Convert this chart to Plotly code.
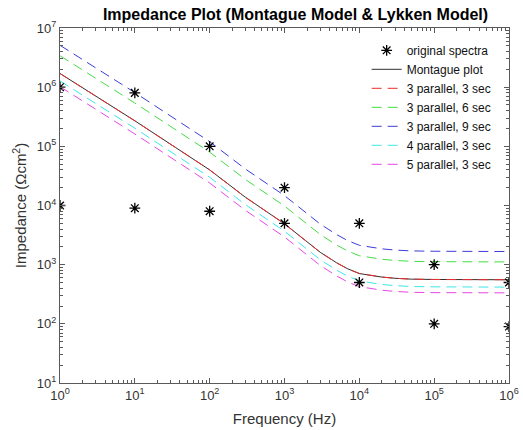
import plotly.graph_objects as go

# Measured impedance spectra (frequency in Hz, impedance in Ohm*cm^2)
spectra_freq = [1, 1, 10, 10, 100, 100, 1000, 1000, 1e4, 1e4, 1e5, 1e5, 1e6, 1e6]
spectra_z = [1e6, 1e4, 8e5, 9e3, 1e5, 8e3, 2e4, 5e3, 5e3, 5e2, 1e3, 1e2, 5e2, 90]

# Model curves sampled on a shared frequency grid
model_freq = [1, 10, 100, 300, 1000, 2000, 3000, 5000, 7000, 1e4, 1.5e4, 2e4, 3e4, 5e4, 1e5, 1e6]
montague_z = [1.70e6, 2.70e5, 4.0e4, 1.38e4, 4.9e3, 2.4e3, 1.62e3, 1.07e3, 850, 708, 646, 617, 589, 569, 562, 556]
p3_s3_z = [1.70e6, 2.70e5, 4.0e4, 1.38e4, 4.9e3, 2.4e3, 1.62e3, 1.07e3, 850, 708, 646, 617, 589, 569, 562, 556]
p3_s6_z = [3.40e6, 5.40e5, 8.0e4, 2.76e4, 9.8e3, 4.8e3, 3.24e3, 2.14e3, 1700, 1416, 1292, 1234, 1178, 1138, 1124, 1112]
p3_s9_z = [5.10e6, 8.10e5, 1.20e5, 4.14e4, 1.47e4, 7.2e3, 4.86e3, 3.21e3, 2550, 2124, 1938, 1851, 1767, 1707, 1686, 1668]
p4_s3_z = [1.275e6, 2.025e5, 3.0e4, 1.035e4, 3.675e3, 1.8e3, 1.215e3, 803, 638, 531, 485, 463, 442, 427, 422, 417]
p5_s3_z = [1.02e6, 1.62e5, 2.4e4, 8.28e3, 2.94e3, 1.44e3, 972, 642, 510, 425, 388, 370, 353, 341, 337, 334]

x_tick_vals = [1, 10, 100, 1000, 1e4, 1e5, 1e6]
x_tick_text = ["10<sup>0</sup>", "10<sup>1</sup>", "10<sup>2</sup>", "10<sup>3</sup>",
               "10<sup>4</sup>", "10<sup>5</sup>", "10<sup>6</sup>"]
y_tick_vals = [10, 100, 1000, 1e4, 1e5, 1e6, 1e7]
y_tick_text = ["10<sup>1</sup>", "10<sup>2</sup>", "10<sup>3</sup>", "10<sup>4</sup>",
               "10<sup>5</sup>", "10<sup>6</sup>", "10<sup>7</sup>"]

# minor log ticks (2..9 within each decade)
x_minor = [m * 10 ** d for d in range(0, 6) for m in range(2, 10)]
y_minor = [m * 10 ** d for d in range(1, 7) for m in range(2, 10)]

FONT = "Liberation Sans, Arial, sans-serif"
AXIS = "#5a5a5a"
DASH = "10px,6px"

fig = go.Figure()

fig.add_trace(go.Scatter(x=model_freq, y=montague_z, mode="lines", name="Montague plot",
                         line=dict(color="#303030", width=1), legendrank=2))

dashed = [
    ("3 parallel, 3 sec", p3_s3_z, "#e8302f", 3),
    ("3 parallel, 6 sec", p3_s6_z, "#45dc45", 4),
    ("3 parallel, 9 sec", p3_s9_z, "#3c3cd8", 5),
    ("4 parallel, 3 sec", p4_s3_z, "#3ee6e6", 6),
    ("5 parallel, 3 sec", p5_s3_z, "#e648e6", 7),
]
for name, z, color, rank in dashed:
    fig.add_trace(go.Scatter(x=model_freq, y=z, mode="lines", name=name,
                             line=dict(color=color, width=1, dash=DASH), legendrank=rank))

fig.add_trace(go.Scatter(x=spectra_freq, y=spectra_z, mode="markers", name="original spectra",
                         marker=dict(symbol="asterisk-open", size=9, color="black",
                                     line=dict(color="black", width=1.3)),
                         legendrank=1))

axis_common = dict(
    type="log", showgrid=False, zeroline=False, showline=True, linecolor=AXIS, linewidth=1,
    mirror="allticks", ticks="inside", ticklen=5, tickcolor=AXIS, tickwidth=1,
    automargin=False,
    tickfont=dict(family=FONT, size=13, color="#333333"),
)

fig.update_xaxes(range=[0, 6], tickmode="array", tickvals=x_tick_vals, ticktext=x_tick_text,
                 minor=dict(ticks="inside", ticklen=3, tickcolor=AXIS, tickmode="array",
                            tickvals=x_minor, showgrid=False),
                 title=dict(text="Frequency (Hz)", font=dict(family=FONT, size=15, color="#333333"),
                            standoff=11),
                 **axis_common)
fig.update_yaxes(range=[1, 7], tickmode="array", tickvals=y_tick_vals, ticktext=y_tick_text,
                 minor=dict(ticks="inside", ticklen=3, tickcolor=AXIS, tickmode="array",
                            tickvals=y_minor, showgrid=False),
                 title=dict(text="Impedance (\u03a9cm<sup>2</sup>)",
                            font=dict(family=FONT, size=15, color="#333333"), standoff=6),
                 **axis_common)

fig.update_layout(
    width=523, height=430,
    margin=dict(l=60, r=14, t=28, b=47),
    paper_bgcolor="white", plot_bgcolor="white",
    title=dict(text="<b>Impedance Plot (Montague Model & Lykken Model)</b>",
               font=dict(family=FONT, size=16, color="black"),
               x=0.565, xanchor="center", xref="container",
               y=0.967, yanchor="middle", yref="container"),
    font=dict(family=FONT, color="#222222"),
    legend=dict(x=0.683, y=0.978, xanchor="left", yanchor="top",
                bgcolor="rgba(0,0,0,0)", borderwidth=0,
                font=dict(family=FONT, size=12, color="#111111")),
    showlegend=True,
)

fig.write_html("out.html")
